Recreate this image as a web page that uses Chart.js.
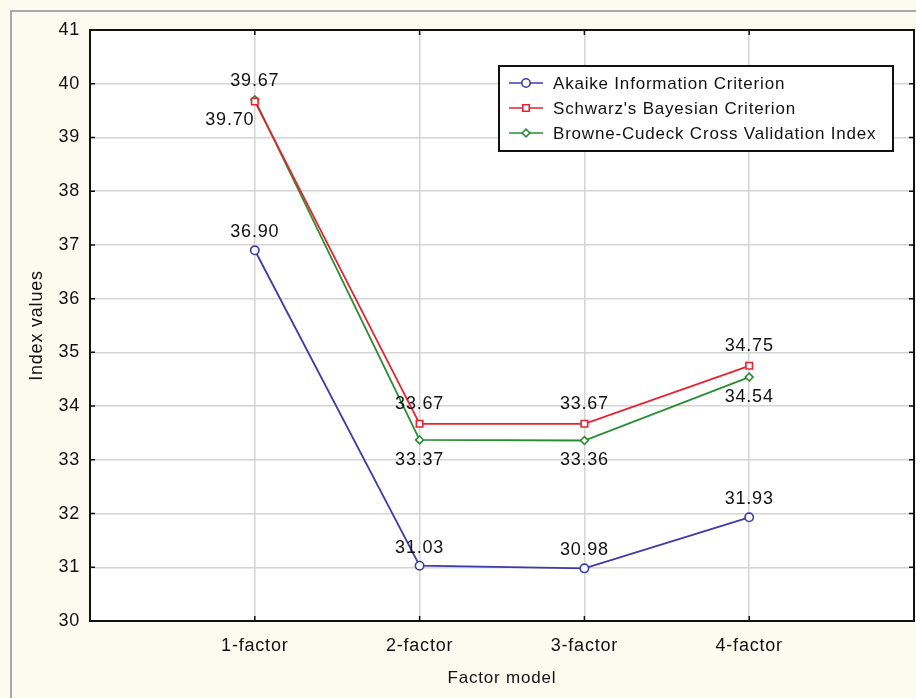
<!DOCTYPE html>
<html>
<head>
<meta charset="utf-8">
<script src="https://cdn.jsdelivr.net/npm/chart.js@4/dist/chart.umd.min.js"></script>
<style>
  html, body { margin: 0; padding: 0; background: #fdfbf0; }
  canvas { display: block; }
</style>
</head>
<body>
<canvas id="chart" width="916" height="698"></canvas>
<script>
const categories = ['1-factor', '2-factor', '3-factor', '4-factor'];
const seriesNames = ['Akaike Information Criterion', "Schwarz's Bayesian Criterion", 'Browne-Cudeck Cross Validation Index'];
const aicValues = [36.90, 31.03, 30.98, 31.93];
const sbcValues = [39.67, 33.67, 33.67, 34.75];
const bccviValues = [39.70, 33.37, 33.36, 34.54];
const yMin = 30;
const yMax = 41;

const colors = ['#3c3ca8', '#e8232f', '#2b8c34'];
const pointStyles = ['circle', 'rect', 'rectRot'];
const pointRadii = [4.2, 4.6, 3.9];
const FONT = '"Liberation Sans", Arial, sans-serif';

function toPoints(values) {
  return values.map((v, i) => ({x: i + 1, y: v}));
}

const statPlot = {
  id: 'statPlot',
  beforeInit(chart) {
    chart.ctx.letterSpacing = '0.8px';
  },
  beforeDraw(chart) {
    const {ctx, width, height, chartArea: {left, top, right, bottom}} = chart;
    ctx.letterSpacing = '0.8px';
    ctx.save();
    ctx.fillStyle = '#fdfbf0';
    ctx.fillRect(0, 0, width, height);
    ctx.strokeStyle = '#a9a9a9';
    ctx.lineWidth = 2;
    ctx.beginPath();
    ctx.moveTo(11, height);
    ctx.lineTo(11, 11);
    ctx.lineTo(width, 11);
    ctx.stroke();
    ctx.fillStyle = '#ffffff';
    ctx.fillRect(left, top, right - left, bottom - top);
    ctx.restore();
  },
  afterDatasetsDraw(chart, args, options) {
    const {ctx, scales: {x, y}, chartArea: {left, top, right, bottom}} = chart;
    ctx.save();
    // frame with inner tick marks
    ctx.strokeStyle = '#111';
    ctx.lineWidth = 2;
    ctx.strokeRect(left, top, right - left, bottom - top);
    ctx.lineWidth = 1.5;
    ctx.beginPath();
    y.ticks.forEach(t => {
      const py = y.getPixelForValue(t.value);
      ctx.moveTo(left, py); ctx.lineTo(left + 5, py);
      ctx.moveTo(right, py); ctx.lineTo(right - 5, py);
    });
    categories.forEach((c, i) => {
      const px = x.getPixelForValue(i + 1);
      ctx.moveTo(px, top); ctx.lineTo(px, top + 5);
      ctx.moveTo(px, bottom); ctx.lineTo(px, bottom - 5);
    });
    ctx.stroke();

    // value labels
    ctx.font = '18px ' + FONT;
    ctx.fillStyle = '#111';
    ctx.textAlign = 'center';
    ctx.textBaseline = 'middle';
    chart.data.datasets.forEach((ds, i) => {
      const meta = chart.getDatasetMeta(i);
      meta.data.forEach((pt, j) => {
        let [dx, dy] = options.labelOffsets[i];
        const special = options.specialOffsets[i + ':' + j];
        if (special) [dx, dy] = special;
        ctx.fillText(ds.data[j].y.toFixed(2), pt.x + dx, pt.y + dy);
      });
    });
    ctx.restore();
  },
  afterDraw(chart, args, options) {
    const {ctx} = chart;
    const lg = options.legend;
    ctx.save();
    ctx.fillStyle = '#ffffff';
    ctx.fillRect(lg.x, lg.y, lg.w, lg.h);
    ctx.strokeStyle = '#111';
    ctx.lineWidth = 2;
    ctx.strokeRect(lg.x, lg.y, lg.w, lg.h);
    ctx.font = '17px ' + FONT;
    ctx.textAlign = 'left';
    ctx.textBaseline = 'middle';
    chart.data.datasets.forEach((ds, i) => {
      const ry = lg.y + 17 + i * 25;
      const sx = lg.x + 10;
      ctx.strokeStyle = ds.borderColor;
      ctx.lineWidth = 1.6;
      ctx.beginPath();
      ctx.moveTo(sx, ry);
      ctx.lineTo(sx + 34, ry);
      ctx.stroke();
      ctx.fillStyle = '#ffffff';
      Chart.helpers.drawPoint(ctx, {
        pointStyle: ds.pointStyle, radius: ds.pointRadius, borderWidth: 1.5
      }, sx + 17, ry);
      ctx.fillStyle = '#111';
      ctx.fillText(ds.label, sx + 44, ry + 1);
    });
    ctx.restore();
  }
};

const datasets = [aicValues, sbcValues, bccviValues].map((vals, i) => ({
  label: seriesNames[i],
  data: toPoints(vals),
  borderColor: colors[i],
  backgroundColor: '#ffffff',
  pointBackgroundColor: '#ffffff',
  pointBorderColor: colors[i],
  pointStyle: pointStyles[i],
  pointRadius: pointRadii[i],
  pointBorderWidth: 1.6,
  borderWidth: 1.8,
  tension: 0
}));

new Chart(document.getElementById('chart'), {
  type: 'line',
  data: { datasets: datasets },
  options: {
    responsive: false,
    animation: false,
    layout: { autoPadding: false, padding: { top: 30, right: 2, left: 0, bottom: 0 } },
    scales: {
      x: {
        type: 'linear',
        min: 0,
        max: 5,
        afterFit(scale) {
          scale.height = 77;
          scale.paddingLeft = 0;
          scale.paddingRight = 0;
        },
        border: { display: false },
        grid: {
          drawTicks: false,
          lineWidth: 1.5,
          color: ctx => (ctx.tick && ctx.tick.value >= 1 && ctx.tick.value <= 4) ? '#d4d4d4' : 'rgba(0,0,0,0)'
        },
        ticks: {
          stepSize: 1,
          padding: 14,
          color: '#111',
          font: { size: 18, family: FONT },
          callback: v => categories[v - 1] || ''
        },
        title: {
          display: true,
          text: 'Factor model',
          color: '#111',
          font: { size: 17, family: FONT },
          padding: { top: 0, bottom: 9 }
        }
      },
      y: {
        min: yMin,
        max: yMax,
        afterFit(scale) { scale.width = 90; },
        border: { display: false },
        grid: { drawTicks: false, color: '#d4d4d4', lineWidth: 1.5 },
        ticks: {
          stepSize: 1,
          padding: 10,
          color: '#111',
          font: { size: 18, family: FONT }
        },
        title: {
          display: true,
          text: 'Index values',
          color: '#111',
          font: { size: 18, family: FONT },
          padding: { top: 26, bottom: 0 }
        }
      }
    },
    plugins: {
      legend: { display: false },
      tooltip: { enabled: false },
      statPlot: {
        labelOffsets: [[0, -18], [0, -20], [0, 20]],
        specialOffsets: { '2:0': [-25, 20] },
        legend: { x: 499, y: 66, w: 394, h: 85 }
      }
    }
  },
  plugins: [statPlot]
});
</script>
</body>
</html>
